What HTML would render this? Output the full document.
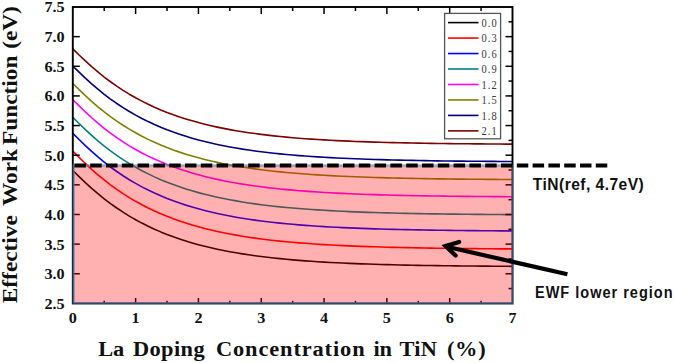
<!DOCTYPE html>
<html><head><meta charset="utf-8"><style>
html,body{margin:0;padding:0;background:#fff;overflow:hidden;}
svg{display:block;}
</style></head><body>
<svg width="675" height="363" viewBox="0 0 675 363">
<rect width="675" height="363" fill="#fff"/>
<g><polyline points="72.80,170.53 79.08,176.61 85.36,182.61 91.64,188.33 97.93,193.73 104.21,198.81 110.49,203.57 116.77,208.02 123.05,212.19 129.33,216.08 135.61,219.70 141.90,223.08 148.18,226.23 154.46,229.16 160.74,231.89 167.02,234.42 173.30,236.78 179.58,238.97 185.87,241.01 192.15,242.90 198.43,244.66 204.71,246.28 210.99,247.80 217.27,249.20 223.55,250.50 229.84,251.71 236.12,252.83 242.40,253.86 248.68,254.82 254.96,255.72 261.24,256.54 267.52,257.31 273.81,258.01 280.09,258.67 286.37,259.28 292.65,259.84 298.93,260.36 305.21,260.84 311.49,261.29 317.78,261.70 324.06,262.09 330.34,262.44 336.62,262.77 342.90,263.07 349.18,263.35 355.46,263.61 361.75,263.85 368.03,264.07 374.31,264.27 380.59,264.46 386.87,264.64 393.15,264.80 399.43,264.95 405.72,265.09 412.00,265.22 418.28,265.33 424.56,265.44 430.84,265.54 437.12,265.64 443.40,265.72 449.69,265.80 455.97,265.88 462.25,265.94 468.53,266.01 474.81,266.07 481.09,266.12 487.37,266.17 493.66,266.21 499.94,266.26 506.22,266.30 512.50,266.33" fill="none" stroke="#000000" stroke-width="1.6" stroke-linejoin="round"/><polyline points="72.80,151.13 79.08,157.33 85.36,163.46 91.64,169.30 97.93,174.81 104.21,179.99 110.49,184.85 116.77,189.40 123.05,193.65 129.33,197.62 135.61,201.32 141.90,204.77 148.18,207.99 154.46,210.98 160.74,213.76 167.02,216.35 173.30,218.76 179.58,221.00 185.87,223.07 192.15,225.00 198.43,226.80 204.71,228.46 210.99,230.00 217.27,231.43 223.55,232.76 229.84,233.99 236.12,235.14 242.40,236.20 248.68,237.18 254.96,238.09 261.24,238.93 267.52,239.71 273.81,240.43 280.09,241.10 286.37,241.72 292.65,242.30 298.93,242.83 305.21,243.32 311.49,243.78 317.78,244.20 324.06,244.59 330.34,244.95 336.62,245.28 342.90,245.59 349.18,245.88 355.46,246.14 361.75,246.39 368.03,246.61 374.31,246.82 380.59,247.02 386.87,247.19 393.15,247.36 399.43,247.51 405.72,247.65 412.00,247.78 418.28,247.90 424.56,248.02 430.84,248.12 437.12,248.21 443.40,248.30 449.69,248.38 455.97,248.46 462.25,248.53 468.53,248.59 474.81,248.65 481.09,248.71 487.37,248.76 493.66,248.80 499.94,248.85 506.22,248.89 512.50,248.92" fill="none" stroke="#ff0000" stroke-width="1.6" stroke-linejoin="round"/><polyline points="72.80,133.33 79.08,139.52 85.36,145.64 91.64,151.46 97.93,156.96 104.21,162.13 110.49,166.98 116.77,171.52 123.05,175.77 129.33,179.73 135.61,183.42 141.90,186.87 148.18,190.07 154.46,193.06 160.74,195.84 167.02,198.42 173.30,200.82 179.58,203.05 185.87,205.13 192.15,207.05 198.43,208.84 204.71,210.50 210.99,212.04 217.27,213.47 223.55,214.80 229.84,216.03 236.12,217.17 242.40,218.22 248.68,219.20 254.96,220.11 261.24,220.95 267.52,221.73 273.81,222.45 280.09,223.12 286.37,223.74 292.65,224.31 298.93,224.84 305.21,225.33 311.49,225.79 317.78,226.21 324.06,226.60 330.34,226.96 336.62,227.29 342.90,227.60 349.18,227.89 355.46,228.15 361.75,228.39 368.03,228.62 374.31,228.83 380.59,229.02 386.87,229.20 393.15,229.36 399.43,229.52 405.72,229.66 412.00,229.79 418.28,229.91 424.56,230.02 430.84,230.12 437.12,230.22 443.40,230.30 449.69,230.39 455.97,230.46 462.25,230.53 468.53,230.59 474.81,230.65 481.09,230.71 487.37,230.76 493.66,230.80 499.94,230.85 506.22,230.89 512.50,230.92" fill="none" stroke="#0000ff" stroke-width="1.6" stroke-linejoin="round"/><polyline points="72.80,117.33 79.08,123.50 85.36,129.60 91.64,135.41 97.93,140.89 104.21,146.05 110.49,150.88 116.77,155.41 123.05,159.64 129.33,163.59 135.61,167.27 141.90,170.70 148.18,173.90 154.46,176.88 160.74,179.65 167.02,182.22 173.30,184.62 179.58,186.84 185.87,188.91 192.15,190.83 198.43,192.61 204.71,194.27 210.99,195.80 217.27,197.23 223.55,198.55 229.84,199.77 236.12,200.91 242.40,201.96 248.68,202.94 254.96,203.84 261.24,204.68 267.52,205.46 273.81,206.18 280.09,206.84 286.37,207.46 292.65,208.03 298.93,208.56 305.21,209.05 311.49,209.50 317.78,209.92 324.06,210.31 330.34,210.67 336.62,211.00 342.90,211.31 349.18,211.60 355.46,211.86 361.75,212.10 368.03,212.33 374.31,212.54 380.59,212.73 386.87,212.91 393.15,213.07 399.43,213.22 405.72,213.36 412.00,213.49 418.28,213.61 424.56,213.72 430.84,213.83 437.12,213.92 443.40,214.01 449.69,214.09 455.97,214.16 462.25,214.23 468.53,214.30 474.81,214.35 481.09,214.41 487.37,214.46 493.66,214.51 499.94,214.55 506.22,214.59 512.50,214.62" fill="none" stroke="#008080" stroke-width="1.6" stroke-linejoin="round"/><polyline points="72.80,99.73 79.08,105.88 85.36,111.96 91.64,117.75 97.93,123.22 104.21,128.36 110.49,133.18 116.77,137.69 123.05,141.91 129.33,145.84 135.61,149.52 141.90,152.94 148.18,156.13 154.46,159.09 160.74,161.85 167.02,164.42 173.30,166.81 179.58,169.03 185.87,171.09 192.15,173.00 198.43,174.78 204.71,176.43 210.99,177.96 217.27,179.38 223.55,180.70 229.84,181.92 236.12,183.05 242.40,184.10 248.68,185.08 254.96,185.98 261.24,186.81 267.52,187.59 273.81,188.31 280.09,188.97 286.37,189.58 292.65,190.15 298.93,190.68 305.21,191.17 311.49,191.62 317.78,192.04 324.06,192.43 330.34,192.79 336.62,193.12 342.90,193.42 349.18,193.71 355.46,193.97 361.75,194.21 368.03,194.44 374.31,194.64 380.59,194.83 386.87,195.01 393.15,195.18 399.43,195.33 405.72,195.47 412.00,195.60 418.28,195.72 424.56,195.83 430.84,195.93 437.12,196.02 443.40,196.11 449.69,196.19 455.97,196.27 462.25,196.33 468.53,196.40 474.81,196.46 481.09,196.51 487.37,196.56 493.66,196.61 499.94,196.65 506.22,196.69 512.50,196.73" fill="none" stroke="#ff00ff" stroke-width="1.6" stroke-linejoin="round"/><polyline points="72.80,83.53 79.08,89.62 85.36,95.64 91.64,101.37 97.93,106.78 104.21,111.86 110.49,116.63 116.77,121.10 123.05,125.27 129.33,129.17 135.61,132.80 141.90,136.19 148.18,139.35 154.46,142.28 160.74,145.02 167.02,147.56 173.30,149.92 179.58,152.12 185.87,154.16 192.15,156.05 198.43,157.81 204.71,159.44 210.99,160.96 217.27,162.36 223.55,163.67 229.84,164.88 236.12,166.00 242.40,167.04 248.68,168.00 254.96,168.89 261.24,169.72 267.52,170.49 273.81,171.20 280.09,171.85 286.37,172.46 292.65,173.03 298.93,173.55 305.21,174.03 311.49,174.48 317.78,174.89 324.06,175.28 330.34,175.63 336.62,175.96 342.90,176.26 349.18,176.54 355.46,176.80 361.75,177.04 368.03,177.26 374.31,177.47 380.59,177.66 386.87,177.83 393.15,178.00 399.43,178.15 405.72,178.28 412.00,178.41 418.28,178.53 424.56,178.64 430.84,178.74 437.12,178.84 443.40,178.92 449.69,179.00 455.97,179.08 462.25,179.14 468.53,179.21 474.81,179.26 481.09,179.32 487.37,179.37 493.66,179.41 499.94,179.46 506.22,179.49 512.50,179.53" fill="none" stroke="#808000" stroke-width="1.6" stroke-linejoin="round"/><polyline points="72.80,66.13 79.08,72.18 85.36,78.16 91.64,83.85 97.93,89.23 104.21,94.29 110.49,99.03 116.77,103.47 123.05,107.61 129.33,111.49 135.61,115.10 141.90,118.46 148.18,121.60 154.46,124.52 160.74,127.23 167.02,129.76 173.30,132.11 179.58,134.29 185.87,136.32 192.15,138.20 198.43,139.95 204.71,141.57 210.99,143.08 217.27,144.47 223.55,145.77 229.84,146.97 236.12,148.08 242.40,149.12 248.68,150.07 254.96,150.96 261.24,151.78 267.52,152.55 273.81,153.25 280.09,153.90 286.37,154.51 292.65,155.07 298.93,155.59 305.21,156.07 311.49,156.51 317.78,156.92 324.06,157.30 330.34,157.66 336.62,157.98 342.90,158.28 349.18,158.56 355.46,158.82 361.75,159.06 368.03,159.28 374.31,159.48 380.59,159.67 386.87,159.85 393.15,160.01 399.43,160.16 405.72,160.30 412.00,160.42 418.28,160.54 424.56,160.65 430.84,160.75 437.12,160.84 443.40,160.93 449.69,161.01 455.97,161.08 462.25,161.15 468.53,161.21 474.81,161.27 481.09,161.32 487.37,161.37 493.66,161.42 499.94,161.46 506.22,161.50 512.50,161.53" fill="none" stroke="#000080" stroke-width="1.6" stroke-linejoin="round"/><polyline points="72.80,48.93 79.08,54.97 85.36,60.94 91.64,66.62 97.93,71.98 104.21,77.03 110.49,81.76 116.77,86.19 123.05,90.33 129.33,94.19 135.61,97.80 141.90,101.15 148.18,104.28 154.46,107.20 160.74,109.91 167.02,112.43 173.30,114.77 179.58,116.95 185.87,118.97 192.15,120.85 198.43,122.59 204.71,124.21 210.99,125.71 217.27,127.11 223.55,128.40 229.84,129.60 236.12,130.71 242.40,131.74 248.68,132.70 254.96,133.58 261.24,134.40 267.52,135.16 273.81,135.87 280.09,136.52 286.37,137.12 292.65,137.68 298.93,138.20 305.21,138.68 311.49,139.12 317.78,139.53 324.06,139.91 330.34,140.27 336.62,140.59 342.90,140.89 349.18,141.17 355.46,141.43 361.75,141.67 368.03,141.89 374.31,142.09 380.59,142.28 386.87,142.45 393.15,142.61 399.43,142.76 405.72,142.90 412.00,143.03 418.28,143.14 424.56,143.25 430.84,143.35 437.12,143.44 443.40,143.53 449.69,143.61 455.97,143.68 462.25,143.75 468.53,143.81 474.81,143.87 481.09,143.92 487.37,143.97 493.66,144.02 499.94,144.06 506.22,144.10 512.50,144.13" fill="none" stroke="#800000" stroke-width="1.6" stroke-linejoin="round"/></g>
<g stroke="#000" stroke-width="1.5"><line x1="104.21" y1="7.0" x2="104.21" y2="11.0"/><line x1="104.21" y1="303.4" x2="104.21" y2="300.79999999999995"/><line x1="135.61" y1="7.0" x2="135.61" y2="14.0"/><line x1="135.61" y1="303.4" x2="135.61" y2="298.0"/><line x1="167.02" y1="7.0" x2="167.02" y2="11.0"/><line x1="167.02" y1="303.4" x2="167.02" y2="300.79999999999995"/><line x1="198.43" y1="7.0" x2="198.43" y2="14.0"/><line x1="198.43" y1="303.4" x2="198.43" y2="298.0"/><line x1="229.84" y1="7.0" x2="229.84" y2="11.0"/><line x1="229.84" y1="303.4" x2="229.84" y2="300.79999999999995"/><line x1="261.24" y1="7.0" x2="261.24" y2="14.0"/><line x1="261.24" y1="303.4" x2="261.24" y2="298.0"/><line x1="292.65" y1="7.0" x2="292.65" y2="11.0"/><line x1="292.65" y1="303.4" x2="292.65" y2="300.79999999999995"/><line x1="324.06" y1="7.0" x2="324.06" y2="14.0"/><line x1="324.06" y1="303.4" x2="324.06" y2="298.0"/><line x1="355.46" y1="7.0" x2="355.46" y2="11.0"/><line x1="355.46" y1="303.4" x2="355.46" y2="300.79999999999995"/><line x1="386.87" y1="7.0" x2="386.87" y2="14.0"/><line x1="386.87" y1="303.4" x2="386.87" y2="298.0"/><line x1="418.28" y1="7.0" x2="418.28" y2="11.0"/><line x1="418.28" y1="303.4" x2="418.28" y2="300.79999999999995"/><line x1="449.69" y1="7.0" x2="449.69" y2="14.0"/><line x1="449.69" y1="303.4" x2="449.69" y2="298.0"/><line x1="481.09" y1="7.0" x2="481.09" y2="11.0"/><line x1="481.09" y1="303.4" x2="481.09" y2="300.79999999999995"/><line x1="512.5" y1="288.58" x2="508.5" y2="288.58"/><line x1="72.8" y1="273.76" x2="79.8" y2="273.76"/><line x1="512.5" y1="273.76" x2="505.5" y2="273.76"/><line x1="512.5" y1="258.94" x2="508.5" y2="258.94"/><line x1="72.8" y1="244.12" x2="79.8" y2="244.12"/><line x1="512.5" y1="244.12" x2="505.5" y2="244.12"/><line x1="512.5" y1="229.30" x2="508.5" y2="229.30"/><line x1="72.8" y1="214.48" x2="79.8" y2="214.48"/><line x1="512.5" y1="214.48" x2="505.5" y2="214.48"/><line x1="512.5" y1="199.66" x2="508.5" y2="199.66"/><line x1="72.8" y1="184.84" x2="79.8" y2="184.84"/><line x1="512.5" y1="184.84" x2="505.5" y2="184.84"/><line x1="512.5" y1="170.02" x2="508.5" y2="170.02"/><line x1="72.8" y1="155.20" x2="79.8" y2="155.20"/><line x1="512.5" y1="155.20" x2="505.5" y2="155.20"/><line x1="512.5" y1="140.38" x2="508.5" y2="140.38"/><line x1="72.8" y1="125.56" x2="79.8" y2="125.56"/><line x1="512.5" y1="125.56" x2="505.5" y2="125.56"/><line x1="512.5" y1="110.74" x2="508.5" y2="110.74"/><line x1="72.8" y1="95.92" x2="79.8" y2="95.92"/><line x1="512.5" y1="95.92" x2="505.5" y2="95.92"/><line x1="512.5" y1="81.10" x2="508.5" y2="81.10"/><line x1="72.8" y1="66.28" x2="79.8" y2="66.28"/><line x1="512.5" y1="66.28" x2="505.5" y2="66.28"/><line x1="512.5" y1="51.46" x2="508.5" y2="51.46"/><line x1="72.8" y1="36.64" x2="79.8" y2="36.64"/><line x1="512.5" y1="36.64" x2="505.5" y2="36.64"/><line x1="512.5" y1="21.82" x2="508.5" y2="21.82"/></g>
<rect x="72.8" y="7.0" width="439.70" height="296.40" fill="none" stroke="#000" stroke-width="1.9"/>
<rect x="444.6" y="13.4" width="56" height="125.4" fill="#fff" stroke="#555" stroke-width="1.3"/>
<g><line x1="448" y1="22.60" x2="478.5" y2="22.60" stroke="#000000" stroke-width="1.6"/><line x1="448" y1="38.07" x2="478.5" y2="38.07" stroke="#ff0000" stroke-width="1.6"/><line x1="448" y1="53.54" x2="478.5" y2="53.54" stroke="#0000ff" stroke-width="1.6"/><line x1="448" y1="69.01" x2="478.5" y2="69.01" stroke="#008080" stroke-width="1.6"/><line x1="448" y1="84.48" x2="478.5" y2="84.48" stroke="#ff00ff" stroke-width="1.6"/><line x1="448" y1="99.95" x2="478.5" y2="99.95" stroke="#808000" stroke-width="1.6"/><line x1="448" y1="115.42" x2="478.5" y2="115.42" stroke="#000080" stroke-width="1.6"/><line x1="448" y1="130.89" x2="478.5" y2="130.89" stroke="#800000" stroke-width="1.6"/></g>
<g font-family="Liberation Serif" font-size="12.3" fill="#3a3a3a"><text transform="translate(481.4,26.80) scale(0.85,1)" letter-spacing="1.35">0.0</text><text transform="translate(481.4,42.27) scale(0.85,1)" letter-spacing="1.35">0.3</text><text transform="translate(481.4,57.74) scale(0.85,1)" letter-spacing="1.35">0.6</text><text transform="translate(481.4,73.21) scale(0.85,1)" letter-spacing="1.35">0.9</text><text transform="translate(481.4,88.68) scale(0.85,1)" letter-spacing="1.35">1.2</text><text transform="translate(481.4,104.15) scale(0.85,1)" letter-spacing="1.35">1.5</text><text transform="translate(481.4,119.62) scale(0.85,1)" letter-spacing="1.35">1.8</text><text transform="translate(481.4,135.09) scale(0.85,1)" letter-spacing="1.35">2.1</text></g>
<rect x="73.7" y="165.5" width="439" height="137.8" fill="rgba(255,0,0,0.31)" stroke="rgba(79,129,189,0.55)" stroke-width="2.6"/>
<line x1="74.4" y1="165.5" x2="608" y2="165.5" stroke="#000" stroke-width="3.8" stroke-dasharray="11.5 4.3"/>
<g font-family="Liberation Serif" font-weight="bold" font-size="15.4" fill="#111"><text transform="translate(64.6,308.80) scale(1.05,1)" text-anchor="end">2.5</text><text transform="translate(64.6,279.16) scale(1.05,1)" text-anchor="end">3.0</text><text transform="translate(64.6,249.52) scale(1.05,1)" text-anchor="end">3.5</text><text transform="translate(64.6,219.88) scale(1.05,1)" text-anchor="end">4.0</text><text transform="translate(64.6,190.24) scale(1.05,1)" text-anchor="end">4.5</text><text transform="translate(64.6,160.60) scale(1.05,1)" text-anchor="end">5.0</text><text transform="translate(64.6,130.96) scale(1.05,1)" text-anchor="end">5.5</text><text transform="translate(64.6,101.32) scale(1.05,1)" text-anchor="end">6.0</text><text transform="translate(64.6,71.68) scale(1.05,1)" text-anchor="end">6.5</text><text transform="translate(64.6,42.04) scale(1.05,1)" text-anchor="end">7.0</text><text transform="translate(64.6,12.40) scale(1.05,1)" text-anchor="end">7.5</text><text transform="translate(72.80,323.2) scale(1.05,1)" text-anchor="middle">0</text><text transform="translate(135.61,323.2) scale(1.05,1)" text-anchor="middle">1</text><text transform="translate(198.43,323.2) scale(1.05,1)" text-anchor="middle">2</text><text transform="translate(261.24,323.2) scale(1.05,1)" text-anchor="middle">3</text><text transform="translate(324.06,323.2) scale(1.05,1)" text-anchor="middle">4</text><text transform="translate(386.87,323.2) scale(1.05,1)" text-anchor="middle">5</text><text transform="translate(449.69,323.2) scale(1.05,1)" text-anchor="middle">6</text><text transform="translate(512.50,323.2) scale(1.05,1)" text-anchor="middle">7</text></g>
<g font-family="Liberation Serif" font-weight="bold" font-size="20" fill="#111"><text transform="translate(98.30,356) scale(1.12,1)" textLength="23.21" lengthAdjust="spacing">La</text><text transform="translate(132.90,356) scale(1.12,1)" textLength="64.11" lengthAdjust="spacing">Doping</text><text transform="translate(216.00,356) scale(1.12,1)" textLength="132.68" lengthAdjust="spacing">Concentration</text><text transform="translate(373.50,356) scale(1.12,1)" textLength="16.43" lengthAdjust="spacing">in</text><text transform="translate(399.50,356) scale(1.12,1)" textLength="33.39" lengthAdjust="spacing">TiN</text><text transform="translate(446.90,356) scale(1.12,1)" textLength="34.64" lengthAdjust="spacing">(%)</text></g>
<text transform="translate(16.8,303.2) rotate(-90) scale(1.08,1)" font-family="Liberation Serif" font-weight="bold" font-size="21.6" fill="#111">Effective <tspan dx="3.15">Work </tspan><tspan dx="-1.8">Function </tspan><tspan dx="0.9">(eV)</tspan></text>
<text transform="translate(532.8,190.1) scale(0.97,1)" font-family="Liberation Sans" font-weight="bold" font-size="16.1" fill="#111" textLength="114.43" lengthAdjust="spacing">TiN(ref, 4.7eV)</text>
<text transform="translate(535,297.8) scale(0.92,1)" font-family="Liberation Sans" font-weight="bold" font-size="15.8" fill="#111" textLength="149.57" lengthAdjust="spacing">EWF lower region</text>
<g stroke="#000" stroke-width="4.2" fill="none">
<line x1="567.4" y1="274.3" x2="447" y2="246.8"/>
<polyline points="459.2,242 445.5,246 455.6,255.6" stroke-linecap="round" stroke-linejoin="miter"/>
</g>
</svg>
</body></html>
